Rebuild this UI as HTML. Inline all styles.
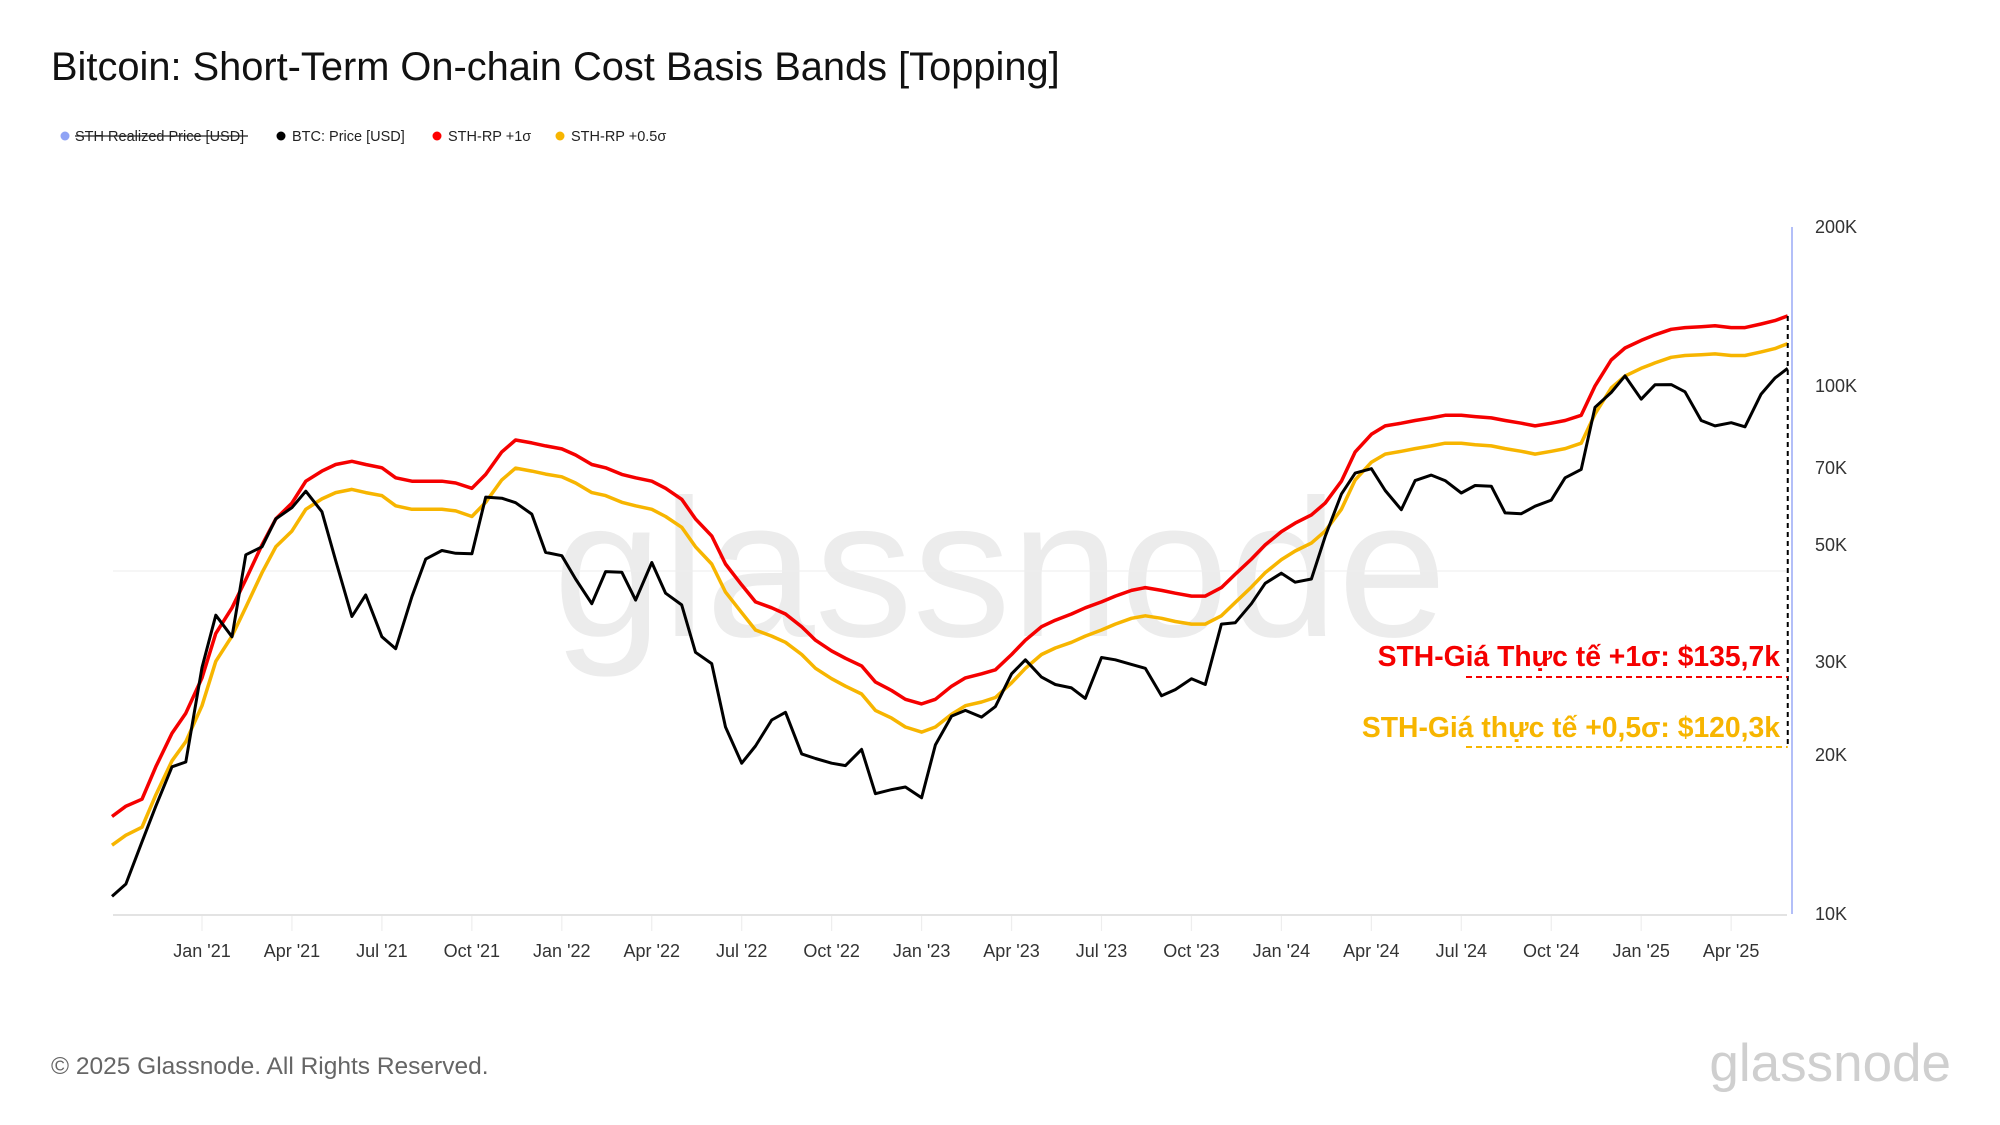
<!DOCTYPE html>
<html><head><meta charset="utf-8">
<style>
html,body{margin:0;padding:0;background:#fff;}
body{width:2000px;height:1125px;overflow:hidden;font-family:"Liberation Sans","Noto Sans CJK SC",sans-serif;}
svg{display:block;}
</style></head>
<body>
<svg id="chart" width="2000" height="1125" viewBox="0 0 2000 1125">
  <text x="51" y="80" font-size="39.8" fill="#111">Bitcoin: Short-Term On-chain Cost Basis Bands [Topping]</text>
  <g font-size="14.5" fill="#222">
    <g>
      <circle cx="65" cy="136" r="4.5" fill="#8fa3f5"/>
      <text x="75" y="141">STH Realized Price [USD]</text>
      <line x1="75" y1="136" x2="248" y2="136" stroke="#222" stroke-width="1.3"/>
    </g>
    <g>
      <circle cx="281" cy="136" r="4.5" fill="#000"/>
      <text x="292" y="141">BTC: Price [USD]</text>
    </g>
    <g>
      <circle cx="437" cy="136" r="4.5" fill="#f00"/>
      <text x="448" y="141">STH-RP +1σ</text>
    </g>
    <g>
      <circle cx="560" cy="136" r="4.5" fill="#f7b500"/>
      <text x="571" y="141">STH-RP +0.5σ</text>
    </g>
  </g>
  <text x="1000" y="636" font-size="196" fill="#ececec" text-anchor="middle">glassnode</text>
  <g id="grid"></g>
  <g id="xaxis"></g>
  <g id="yaxis"></g>
  <g id="series"></g>
  <g id="annot"></g>
  <text x="51" y="1074" font-size="24.5" fill="#666">© 2025 Glassnode. All Rights Reserved.</text>
  <text x="1951" y="1081" font-size="53" fill="#cfcfcf" text-anchor="end">glassnode</text>
</svg>
<script>
const dates = ["2020-10-01","2020-10-15","2020-11-01","2020-11-15","2020-12-01","2020-12-15",
"2021-01-01","2021-01-15","2021-02-01","2021-02-15","2021-03-01","2021-03-15","2021-04-01","2021-04-15","2021-05-01","2021-05-15","2021-06-01","2021-06-15","2021-07-01","2021-07-15","2021-08-01","2021-08-15","2021-09-01","2021-09-15","2021-10-01","2021-10-15","2021-11-01","2021-11-15","2021-12-01","2021-12-15",
"2022-01-01","2022-01-15","2022-02-01","2022-02-15","2022-03-01","2022-03-15","2022-04-01","2022-04-15","2022-05-01","2022-05-15","2022-06-01","2022-06-15","2022-07-01","2022-07-15","2022-08-01","2022-08-15","2022-09-01","2022-09-15","2022-10-01","2022-10-15","2022-11-01","2022-11-15","2022-12-01","2022-12-15",
"2023-01-01","2023-01-15","2023-02-01","2023-02-15","2023-03-01","2023-03-15","2023-04-01","2023-04-15","2023-05-01","2023-05-15","2023-06-01","2023-06-15","2023-07-01","2023-07-15","2023-08-01","2023-08-15","2023-09-01","2023-09-15","2023-10-01","2023-10-15","2023-11-01","2023-11-15","2023-12-01","2023-12-15",
"2024-01-01","2024-01-15","2024-02-01","2024-02-15","2024-03-01","2024-03-15","2024-04-01","2024-04-15","2024-05-01","2024-05-15","2024-06-01","2024-06-15","2024-07-01","2024-07-15","2024-08-01","2024-08-15","2024-09-01","2024-09-15","2024-10-01","2024-10-15","2024-11-01","2024-11-15","2024-12-01","2024-12-15",
"2025-01-01","2025-01-15","2025-02-01","2025-02-15","2025-03-01","2025-03-15","2025-04-01","2025-04-15","2025-05-01","2025-05-15","2025-05-28"];
// values in thousands USD
const btcPrice = [10.8,11.4,13.7,16.0,19.0,19.4,
29.3,36.8,33.5,47.9,49.6,56,58.8,63.2,57.8,46.7,36.6,40.2,33.5,31.8,39.9,47,48.8,48.2,48.1,61.6,61.3,60.1,57.2,48.4,
47.7,43.1,38.7,44.5,44.4,39.3,46.3,40.5,38.5,31.3,29.8,22.6,19.3,20.8,23.3,24.1,20.1,19.7,19.3,19.1,20.5,16.9,17.2,17.4,
16.6,20.9,23.7,24.3,23.6,24.7,28.5,30.3,28.1,27.2,26.8,25.6,30.6,30.3,29.7,29.2,25.9,26.6,27.9,27.2,35.4,35.6,38.7,42.3,
44.2,42.5,43.1,51.9,62.4,68.4,69.7,63.4,58.3,66.2,67.8,66.2,62.7,64.8,64.6,57.5,57.3,59.2,60.8,67.0,69.5,91.1,97.2,104.5,
94.4,100.5,100.6,97.5,86.0,84.0,85.2,83.7,96.5,103.5,108];
const sthRp1Sigma = [15.3,16.0,16.5,19,22,24,
28,34,38,43,50,56,60,66,69,71,72,71,70,67,66,66,66,65.5,64,68,75,79,78,77,
76,74,71,70,68,67,66,64,61,56,52,46,42,39,38,37,35,33,31.5,30.5,29.5,27.5,26.5,25.5,
25,25.5,27,28,28.5,29,31,33,35,36,37,38,39,40,41,41.5,41,40.5,40,40,41.5,44,47,50,
53,55,57,60,66,75,81,84,85,86,87,88,88,87.5,87,86,85,84,85,86,88,100,112,118,
122,125,128,129,129.5,130,129,129,131,133,135.7];
const sthRp05Sigma = [13.5,14.1,14.6,16.8,19.5,21.2,
24.8,30.1,33.6,38.1,44.3,49.6,53.1,58.4,61.1,62.8,63.7,62.8,62,59.3,58.4,58.4,58.4,58,56.6,60.2,66.4,69.9,69,68.1,
67.3,65.5,62.8,62,60.2,59.3,58.4,56.6,54,49.6,46,40.7,37.2,34.5,33.6,32.7,31,29.2,27.9,27,26.1,24.3,23.5,22.6,
22.1,22.6,23.9,24.8,25.2,25.7,27.4,29.2,31,31.9,32.7,33.6,34.5,35.4,36.3,36.7,36.3,35.8,35.4,35.4,36.7,38.9,41.6,44.3,
46.9,48.7,50.4,53.1,58.4,66.4,71.7,74.3,75.2,76.1,77,77.9,77.9,77.4,77,76.1,75.2,74.3,75.2,76.1,77.9,88.5,99.1,104.4,
108,110.6,113.3,114.2,114.6,115,114.2,114.2,116,117.7,120.3];
const yTickValues = [10,20,30,50,70,100,200];
const yTickLabels = ["10K","20K","30K","50K","70K","100K","200K"];
const xTickDates = ["2021-01-01","2021-04-01","2021-07-01","2021-10-01","2022-01-01","2022-04-01","2022-07-01","2022-10-01","2023-01-01","2023-04-01","2023-07-01","2023-10-01","2024-01-01","2024-04-01","2024-07-01","2024-10-01","2025-01-01","2025-04-01"];
const xTickLabels = ["Jan '21","Apr '21","Jul '21","Oct '21","Jan '22","Apr '22","Jul '22","Oct '22","Jan '23","Apr '23","Jul '23","Oct '23","Jan '24","Apr '24","Jul '24","Oct '24","Jan '25","Apr '25"];
const annotLabels = ["STH-Giá Thực tế +1σ: $135,7k","STH-Giá thực tế +0,5σ: $120,3k"];

const NS="http://www.w3.org/2000/svg";
const PL=113, PR=1792, PT=227, PB=914;
function decYear(s){const [y,m,d]=s.split("-").map(Number);return y+(m-1)/12+(d-1)/365;}
function xScale(s){return 202+(decYear(s)-2021)*359.8;}
function yScale(v){return PB-Math.log10(v/10)/Math.log10(20)*(PB-PT);}
function mk(tag,attrs,parent){const e=document.createElementNS(NS,tag);for(const k in attrs)e.setAttribute(k,attrs[k]);parent.appendChild(e);return e;}

const grid=document.getElementById('grid'), xa=document.getElementById('xaxis'), ya=document.getElementById('yaxis'), ser=document.getElementById('series'), an=document.getElementById('annot');
const gl=mk('line',{x1:PL,x2:1787,y1:571,y2:571,stroke:'#eeeeee','stroke-width':1},grid);


const bl=mk('line',{x1:PL,x2:1787,y1:PB+1,y2:PB+1,stroke:'#e3e3e3','stroke-width':2},xa);


const rl=mk('line',{x1:PR,x2:PR,y1:PT,y2:PB,stroke:'#9aaaf5','stroke-width':1.5},ya);



xTickDates.forEach((d,i)=>{
  const x=xScale(d);
  const t=mk('line',{x1:x,x2:x,y1:PB+2,y2:PB+17,stroke:'#eeeeee','stroke-width':1.2},xa);
  
  
  const l=mk('text',{x:x,y:957,'font-size':18,fill:'#333','text-anchor':'middle'},xa);
  l.textContent=xTickLabels[i];
  
  
});
yTickValues.forEach((v,i)=>{
  const l=mk('text',{x:1815,y:yScale(v)+6,'font-size':18,fill:'#333'},ya);
  l.textContent=yTickLabels[i];
  
  
});

function path(vals,color,w,name){
  const n=Math.min(vals.length,dates.length);
  let d="";
  for(let i=0;i<n;i++){d+=(i?"L":"M")+xScale(dates[i]).toFixed(1)+","+yScale(vals[i]).toFixed(1);}
  const p=mk('path',{d:d,fill:'none',stroke:color,'stroke-width':w,'stroke-linejoin':'round'},ser);
  
  
}
path(sthRp05Sigma,'#f7b500',3.5,'sth-rp-05sigma-line');
path(sthRp1Sigma,'#f50000',3.5,'sth-rp-1sigma-line');
path(btcPrice,'#000',3,'btc-price-line');

const last=dates.length-1, xe=xScale(dates[last]);
const r1=sthRp1Sigma[sthRp1Sigma.length-1];
const v=mk('line',{x1:xe,x2:xe,y1:yScale(r1),y2:747,stroke:'#000','stroke-width':2,'stroke-dasharray':'5,4'},an);


const a1=mk('text',{x:1780,y:666,'font-size':28.3,'font-weight':'bold',fill:'#f50000','text-anchor':'end'},an);
a1.textContent=annotLabels[0];


const d1=mk('line',{x1:1466,x2:xe,y1:677,y2:677,stroke:'#f50000','stroke-width':2,'stroke-dasharray':'6,4'},an);


const a2=mk('text',{x:1780,y:737,'font-size':28.3,'font-weight':'bold',fill:'#f7b500','text-anchor':'end'},an);
a2.textContent=annotLabels[1];


const d2=mk('line',{x1:1466,x2:xe,y1:747,y2:747,stroke:'#f7b500','stroke-width':2,'stroke-dasharray':'6,4'},an);


</script>
</body></html>
